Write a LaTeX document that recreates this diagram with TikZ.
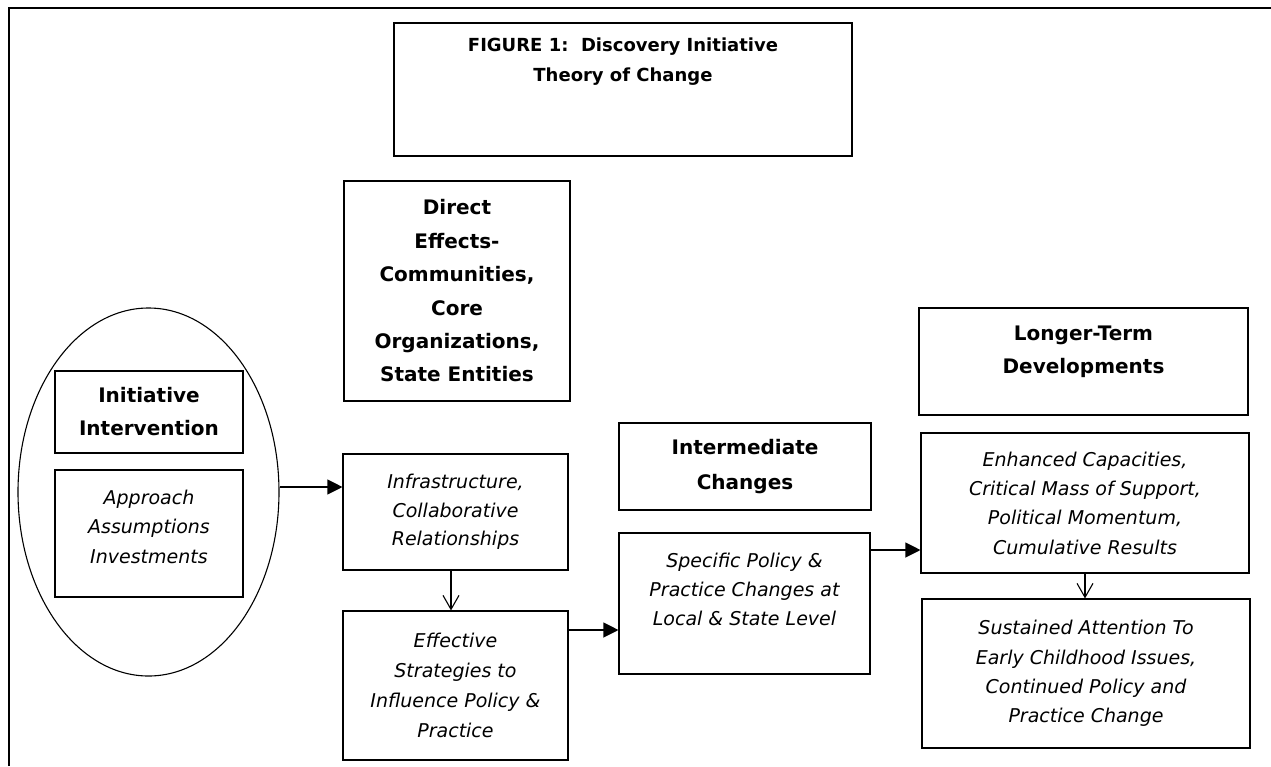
\documentclass[tikz,border=0pt]{standalone}
\usepackage{fontspec}
\setmainfont{DejaVu Sans}
\usetikzlibrary{arrows.meta,shapes.geometric}
\newcommand\boldtxt[1]{\fontsize{20}{#1}\selectfont\bfseries}
\newcommand\titletxt[1]{\fontsize{18}{#1}\selectfont\bfseries}
\newcommand\italtxt[1]{\fontsize{19}{#1}\selectfont\itshape}
\begin{document}
\begin{tikzpicture}[x=1pt,y=-1pt,
  box/.style={draw, line width=1.1pt, inner sep=0pt, align=center},
  headbox/.style={draw, line width=1.6pt, inner sep=0pt, align=center},
  txt/.style={inner sep=0pt, align=center},
  sarrow/.style={line width=1.1pt, -{Triangle[length=15pt,width=15pt]}},
  varrow/.style={line width=1.1pt, -{Straight Barb[length=14pt,width=16pt]}}
]
\useasboundingbox (0,0) rectangle (1271,766);
% outer frame (only top and left edges are visible)
\draw[line width=2pt] (9,766) -- (9,8) -- (1271,8);

% title
\node[headbox, minimum width=458pt, minimum height=133pt] (title) at (623,89.5) {};
\node[txt, font=\titletxt{30}] (titletext) at (623,62) {FIGURE 1:\ \ Discovery Initiative\\Theory of Change};

% direct effects heading
\node[headbox, minimum width=226pt, minimum height=220pt, font=\boldtxt{33.4}] (direct) at (457,291)
  {Direct\\Effects-\\Communities,\\Core\\Organizations,\\State Entities};

% left oval
\node[draw, ellipse, line width=1.1pt, inner sep=0pt, minimum width=261pt, minimum height=368pt] (oval) at (148.5,492) {};
\node[box, minimum width=188pt, minimum height=82pt, font=\boldtxt{33}] (init) at (149,412)
  {Initiative\\Intervention};
\node[box, minimum width=188pt, minimum height=127pt] (approach) at (149,533.5) {};
\node[txt, font=\italtxt{29.5}] (approachtext) at (149,526.5) {Approach\\Assumptions\\Investments};

% direct effects column
\node[box, minimum width=225pt, minimum height=116pt, font=\italtxt{28.5}] (infra) at (455.5,512)
  {Infrastructure,\\Collaborative\\Relationships};
\node[box, minimum width=225pt, minimum height=149pt, font=\italtxt{30}] (effective) at (455.5,685.5)
  {Effective\\Strategies to\\Influence Policy \&\\Practice};

% intermediate column
\node[headbox, minimum width=252pt, minimum height=87pt, font=\boldtxt{35}] (inter) at (745,466.5)
  {Intermediate\\Changes};
\node[box, minimum width=251pt, minimum height=141pt] (specific) at (744.5,603.5) {};
\node[txt, font=\italtxt{29}] (specifictext) at (744.5,589)
  {Specific Policy \&\\Practice Changes at\\Local \& State Level};

% longer-term column
\node[headbox, minimum width=329pt, minimum height=107pt] (longer) at (1083.5,361.5) {};
\node[txt, font=\boldtxt{33}] (longertext) at (1083.5,351.5) {Longer-Term\\Developments};
\node[box, minimum width=328pt, minimum height=140pt, font=\italtxt{29.3}] (enhanced) at (1085,503)
  {Enhanced Capacities,\\Critical Mass of Support,\\Political Momentum,\\Cumulative Results};
\node[box, minimum width=328pt, minimum height=149pt, font=\italtxt{29.3}] (sustained) at (1086,673.5)
  {Sustained Attention To\\Early Childhood Issues,\\Continued Policy and\\Practice Change};

% connectors
\draw[sarrow] ([yshift=5pt]oval.east) coordinate (o1) -- (o1 -| infra.west);
\draw[varrow] ([xshift=-4.5pt]infra.south) -- ([xshift=-4.5pt]effective.north);
\draw[sarrow] ([yshift=55.5pt]effective.east) coordinate (e1) -- (e1 -| specific.west);
\draw[sarrow] ([yshift=53.5pt]specific.east) coordinate (s1) -- (s1 -| enhanced.west);
\draw[varrow] (enhanced.south) -- (enhanced.south |- sustained.north);
\end{tikzpicture}
\end{document}
